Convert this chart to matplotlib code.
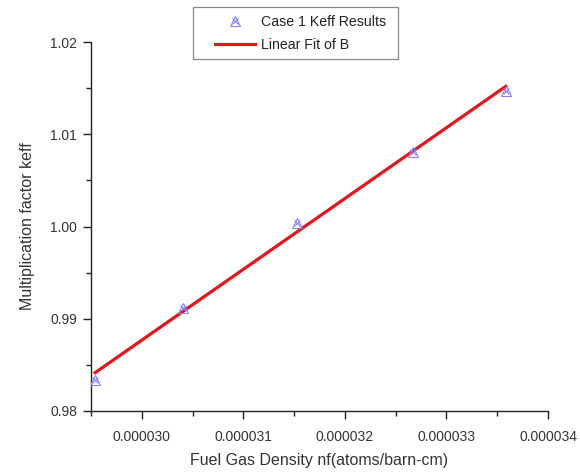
import numpy as np
import matplotlib
matplotlib.use("Agg")
import matplotlib.pyplot as plt
from matplotlib.ticker import MultipleLocator, FormatStrFormatter
from matplotlib.legend_handler import HandlerTuple
from matplotlib.patches import Rectangle

plt.rcParams['font.family'] = ['Liberation Sans', 'DejaVu Sans']

# Fuel gas density (atoms/barn-cm) and computed keff
density = [2.9541e-5, 3.0406e-5, 3.1528e-5, 3.2669e-5, 3.3584e-5]
keff = [0.98336, 0.99120, 1.00040, 1.00808, 1.01469]

x = np.array(density)
y = np.array(keff)
slope, intercept = np.polyfit(x, y, 1)
xfit = np.array([x.min(), x.max()])
yfit = slope * xfit + intercept

W, H = 580, 472
fig = plt.figure(figsize=(W / 100, H / 100), dpi=100)
ax = fig.add_axes([91/W, 1 - 411/H, (548 - 91)/W, (411 - 42)/H])

mcol = '#8585ee'
m1, = ax.plot(x, y, linestyle='none', marker='^', markersize=7,
              markerfacecolor='none', markeredgecolor=mcol, markeredgewidth=0.8, zorder=3)
m2, = ax.plot(x, y, linestyle='none', marker='x', markersize=5,
              markeredgecolor=mcol, markeredgewidth=0.8, zorder=3)
fitline, = ax.plot(xfit, yfit, color='#e8141b', linewidth=2.3, zorder=2)

ax.set_xlim(2.95e-5, 3.4e-5)
ax.set_ylim(0.98, 1.02)
ax.xaxis.set_major_locator(MultipleLocator(1e-6))
ax.xaxis.set_minor_locator(MultipleLocator(5e-7))
ax.xaxis.set_major_formatter(FormatStrFormatter('%.6f'))
ax.yaxis.set_major_locator(MultipleLocator(0.01))
ax.yaxis.set_minor_locator(MultipleLocator(0.005))
ax.yaxis.set_major_formatter(FormatStrFormatter('%.2f'))

for s in ['top', 'right']:
    ax.spines[s].set_visible(False)
for s in ['left', 'bottom']:
    ax.spines[s].set_linewidth(1.0)
    ax.spines[s].set_color('#222222')

ax.tick_params(which='major', direction='out', length=6, width=1.0, labelsize=10,
               colors='#222222', labelcolor='#333333')
ax.tick_params(axis='x', which='major', pad=8)
ax.tick_params(axis='y', which='major', pad=4)
ax.tick_params(which='minor', direction='out', length=3.5, width=1.0, colors='#222222')

ax.set_xlabel('Fuel Gas Density nf(atoms/barn-cm)', fontsize=11.5, color='#333333', labelpad=6)
ax.set_ylabel('Multiplication factor keff', fontsize=11.5, color='#333333', labelpad=11)

# Legend frame drawn as a plain rectangle, entries placed inside it
frame = Rectangle((193/W, 1 - 59/H), (398 - 193)/W, (59 - 7)/H,
                  transform=fig.transFigure, facecolor='white',
                  edgecolor='#888888', linewidth=0.9, zorder=4)
fig.add_artist(frame)

leg = fig.legend([(m1, m2), fitline], ['Case 1 Keff Results', 'Linear Fit of B'],
                 handler_map={tuple: HandlerTuple(ndivide=1)},
                 loc='upper left', bbox_to_anchor=(215/W, 1 - 15/H),
                 bbox_transform=fig.transFigure, fontsize=10.2, frameon=False,
                 handlelength=2.8, handletextpad=0.45, borderpad=0,
                 labelspacing=0.62, borderaxespad=0)
leg.set_zorder(5)
for t in leg.get_texts():
    t.set_color('#222222')

fig.savefig('out.png', dpi=100)
